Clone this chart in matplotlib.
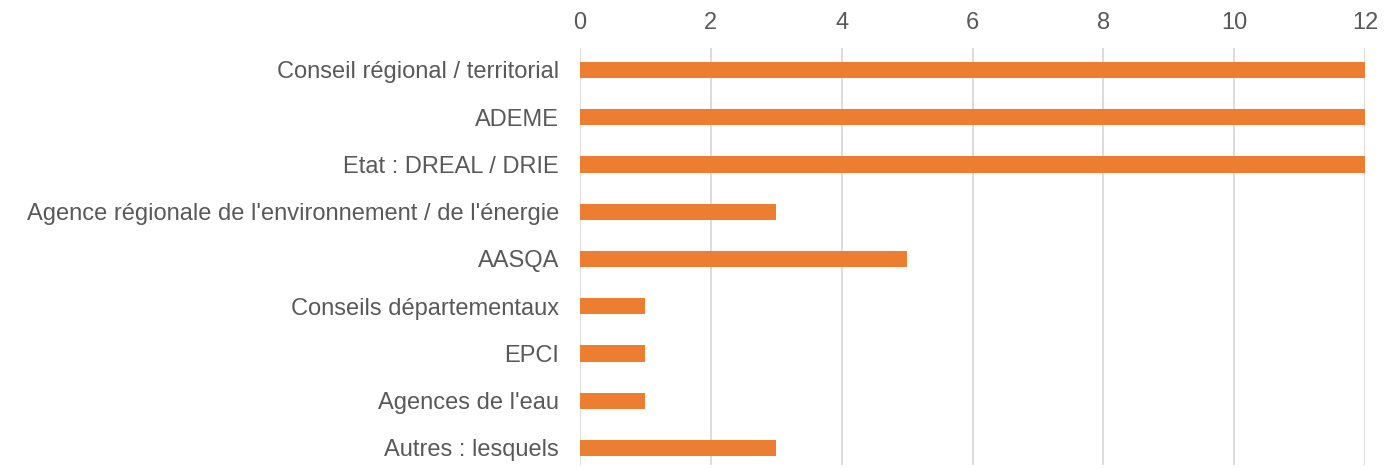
import matplotlib
matplotlib.use("Agg")
import matplotlib.pyplot as plt

categories = [
    "Conseil régional / territorial",
    "ADEME",
    "Etat : DREAL / DRIE",
    "Agence régionale de l'environnement / de l'énergie",
    "AASQA",
    "Conseils départementaux",
    "EPCI",
    "Agences de l'eau",
    "Autres : lesquels",
]
values = [12, 12, 12, 3, 5, 1, 1, 1, 3]
xticks = [0, 2, 4, 6, 8, 10, 12]

plt.rcParams['font.family'] = ['Liberation Sans', 'DejaVu Sans']

fig = plt.figure(figsize=(13.94, 4.69), dpi=100)
ax = fig.add_axes([580/1394, 1-465/469, (1365-580)/1394, (465-48)/469])

y = list(range(len(categories)))
ax.barh(y, values, height=0.34, color="#ED7D31", zorder=3)
ax.set_ylim(8.36, -0.465)
ax.set_xlim(0, 12)
ax.set_yticks(y)
ax.set_yticklabels(categories)
ax.set_xticks(xticks)
ax.xaxis.tick_top()
ax.tick_params(axis='both', length=0, colors="#595959", labelsize=17)
ax.tick_params(axis='y', pad=15)
ax.tick_params(axis='x', pad=10)
ax.grid(axis='x', color="#D9D9D9", linewidth=1.3, zorder=0)
for s in ax.spines.values():
    s.set_visible(False)

fig.savefig("out.png", dpi=100)
